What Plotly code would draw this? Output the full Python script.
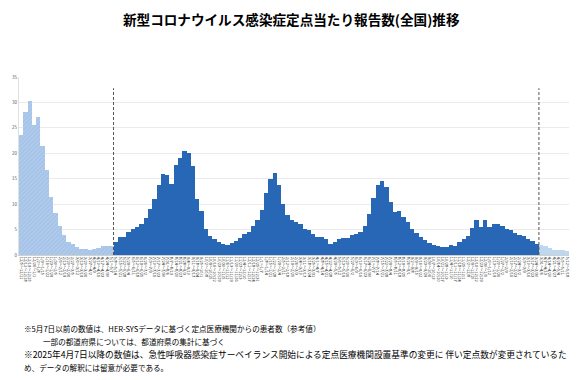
import pandas as pd
import plotly.graph_objects as go

# Weekly values (per-sentinel reports)
before_may7 = [23.6, 28.1, 30.3, 25.6, 27.2, 21.5, 16.8, 11.4, 8.3, 5.8, 4.0,
               2.6, 2.2, 1.6, 1.25, 1.1, 1.0, 1.25, 1.3, 1.7, 1.8, 1.8]
sentinel = [2.6, 3.5, 3.6, 4.5, 5.1, 5.6, 6.1, 7.2, 9.1, 11.0,
            13.8, 15.9, 15.7, 14.0, 17.7, 19.0, 20.5, 20.1, 17.5, 11.0,
            8.7, 5.1, 3.7, 3.1, 2.6, 2.1, 1.9, 2.3, 2.7, 3.4,
            4.1, 4.5, 5.8, 6.9, 8.9, 12.1, 15.0, 16.1, 13.7, 10.0,
            7.8, 6.9, 6.5, 6.1, 5.1, 5.0, 4.1, 3.6, 3.5, 3.1,
            2.2, 2.6, 3.15, 3.3, 3.4, 4.0, 4.2, 4.5, 5.8, 8.1,
            11.2, 13.7, 14.6, 13.3, 10.4, 8.5, 8.7, 7.4, 6.5, 5.1,
            4.3, 3.5, 3.0, 2.3, 1.9, 1.75, 1.6, 1.6, 1.9, 1.8,
            2.5, 3.1, 3.8, 5.4, 6.9, 5.5, 6.9, 5.6, 6.1, 6.0,
            5.8, 5.1, 4.85, 4.4, 4.0, 3.8, 3.2, 2.8, 2.2]
after_apr7 = [2.0, 1.7, 1.3, 1.0, 0.9, 0.9, 0.8]

first_week = "2022-12-05"
n_weeks = len(before_may7) + len(sentinel) + len(after_apr7)
week_starts = pd.date_range(first_week, periods=n_weeks, freq="7D")
categories = [f"{d.month}/{d.day}～{(d + pd.Timedelta(days=6)).month}/{(d + pd.Timedelta(days=6)).day}"
              for d in week_starts]

y_ticks = [0, 5, 10, 15, 20, 25, 30, 35]

title_text = "新型コロナウイルス感染症定点当たり報告数(全国)推移"
notes = [
    "※5月7日以前の数値は、HER-SYSデータに基づく定点医療機関からの患者数（参考値）",
    "一部の都道府県については、都道府県の集計に基づく",
    "※2025年4月7日以降の数値は、急性呼吸器感染症サーベイランス開始による定点医療機関設置基準の変更に 伴い定点数が変更されているた",
    "め、データの解釈には留意が必要である。",
]

FONT = "Noto Sans CJK JP"
n1 = len(before_may7)
n2 = len(sentinel)

fig = go.Figure()
fig.add_trace(go.Bar(
    x=categories[:n1], y=before_may7,
    marker=dict(color="rgb(166,196,232)", line=dict(width=0),
                pattern=dict(shape="/", fgcolor="rgba(255,255,255,0.55)", size=3,
                             solidity=0.25, fillmode="overlay")),
))
fig.add_trace(go.Bar(
    x=categories[n1:n1 + n2], y=sentinel,
    marker=dict(color="rgb(40,103,182)", line=dict(width=0)),
))
fig.add_trace(go.Bar(
    x=categories[n1 + n2:], y=after_apr7,
    marker=dict(color="rgb(189,215,238)", line=dict(width=0)),
))

for xpos in [n1 - 0.5, n1 + n2 - 0.5]:
    fig.add_shape(type="line", xref="x", yref="y", x0=xpos, x1=xpos, y0=0, y1=32.8,
                  line=dict(color="#555555", width=1, dash="3px,2px"))

fig.update_layout(
    width=579, height=380,
    margin=dict(l=19, r=8, t=77, b=125),
    paper_bgcolor="white", plot_bgcolor="white",
    barmode="overlay", bargap=0,
    showlegend=False,
    font=dict(family=FONT, color="#000000"),
    title=dict(text=f"<b>{title_text}</b>", x=0.503, xanchor="center",
               y=1 - 20 / 380, yanchor="middle",
               font=dict(family=FONT, size=13.6, color="#000000")),
)
fig.update_xaxes(
    type="category", categoryorder="array", categoryarray=categories,
    tickmode="array", tickvals=categories, ticktext=categories,
    tickangle=90, tickfont=dict(size=4, color="#222222", family=FONT),
    showline=True, linecolor="#D0D0D0", linewidth=1,
    showgrid=False, ticks="", range=[-0.5, n_weeks - 0.5],
)
fig.update_yaxes(
    range=[0, 35], tickvals=y_ticks, ticktext=[str(v) for v in y_ticks],
    tickfont=dict(size=4.5, color="#595959", family=FONT),
    showgrid=True, gridcolor="rgba(205,205,205,0.4)", gridwidth=1,
    showline=True, linecolor="#E0E0E0", linewidth=1,
    zeroline=False, ticks="", layer="above traces",
)

ys = [328, 341, 354, 367]
xs = [22, 41, 22, 22]
sizes = [7.6, 7.6, 8.7, 7.6]
for txt, py, px, sz in zip(notes, ys, xs, sizes):
    fig.add_annotation(text=txt, xref="paper", yref="paper",
                       x=(px - 19) / 552, y=(255 - py) / 178,
                       xanchor="left", yanchor="middle", showarrow=False,
                       font=dict(family=FONT, size=sz, color="#000000"))

fig.write_html("out.html", config={"displayModeBar": False},
               post_script="document.body.style.margin='0';")
